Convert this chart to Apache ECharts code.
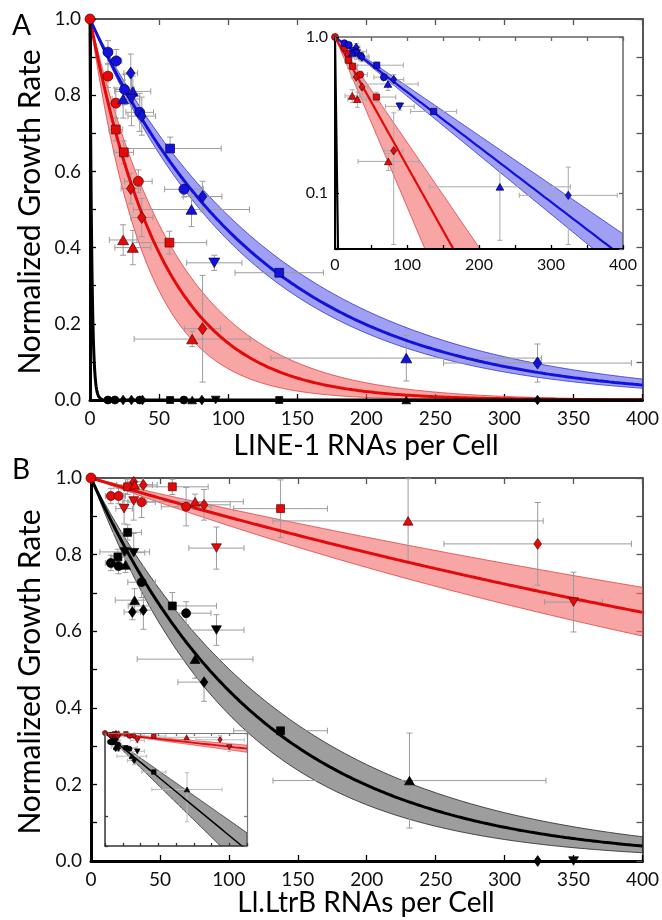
<!DOCTYPE html>
<html><head><meta charset="utf-8">
<script src="https://cdn.jsdelivr.net/npm/echarts@6/dist/echarts.min.js"></script>
<style>html,body{margin:0;padding:0;background:#fff}#c{width:662px;height:920px}</style>
</head><body><div id="c"></div>
<script>
// ---------------- DATA ----------------
// point tuples: [x (RNAs per cell), y (normalized growth rate), xErr, yErr, shape]
// shape: o circle, s square, d diamond, t triangle, v inverted triangle
const originPoint = [0, 1.0];

const line1Blue = [
  [13, 0.913, 3, 0.03, 'o'], [19, 0.89, 4, 0.03, 'o'], [29.5, 0.858, 5, 0.05, 'd'],
  [25, 0.815, 7, 0.04, 'o'], [31, 0.81, 13, 0.04, 't'], [24, 0.79, 8, 0.05, 't'],
  [30, 0.79, 6, 0.07, 'v'], [36, 0.755, 10, 0.05, 'o'], [37.5, 0.745, 10, 0.05, 'd'],
  [58, 0.66, 37, 0.03, 's'], [68, 0.553, 14, 0.02, 'o'], [81.5, 0.534, 14, 0.04, 'd'],
  [73.5, 0.50, 42, 0.045, 't'], [90, 0.36, 20, 0.02, 'v'], [137, 0.334, 32, 0.01, 's'],
  [229, 0.11, 98, 0.06, 't'], [324, 0.097, 68, 0.05, 'd']
];
const line1Red = [
  [13, 0.85, 3, 0.03, 'o'], [18.7, 0.779, 5, 0.04, 'o'], [18.7, 0.71, 5, 0.03, 's'],
  [24.5, 0.65, 7, 0.03, 's'], [35, 0.574, 10, 0.03, 'o'], [29.5, 0.555, 7, 0.04, 'd'],
  [37.5, 0.479, 8, 0.05, 'd'], [24, 0.42, 10, 0.04, 't'], [31, 0.40, 13, 0.045, 't'],
  [57.5, 0.413, 27, 0.03, 's'], [81.5, 0.187, 13, 0.14, 'd'], [74, 0.16, 42, 0.02, 't']
];
const line1Black = [
  [13, 0, 0, 0, 'o'], [18, 0, 0, 0, 'o'], [24, 0, 0, 0, 'd'], [30, 0, 0, 0, 'd'],
  [36, 0, 0, 0, 'o'], [38, 0, 0, 0, 'd'], [58, 0, 0, 0, 's'], [68, 0, 0, 0, 'o'],
  [74, 0, 0, 0, 't'], [81, 0, 0, 0, 'd'], [91, 0, 0, 0, 'v'], [137, 0, 0, 0, 's'],
  [229, 0, 0, 0, 't'], [324, 0, 0, 0, 'd']
];
const ltrbRed = [
  [14.4, 0.953, 4, 0.02, 'o'], [20, 0.953, 5, 0.02, 'o'], [24, 0.92, 6, 0.04, 'v'],
  [26.6, 0.977, 10, 0.02, 's'], [31, 0.99, 6, 0.02, 'd'], [31.6, 0.982, 13, 0.02, 't'],
  [31, 0.94, 8, 0.05, 'v'], [36.7, 0.937, 10, 0.04, 'o'], [38, 0.982, 10, 0.02, 'd'],
  [59, 0.977, 26, 0.02, 's'], [69, 0.925, 18, 0.05, 'o'], [75.5, 0.938, 35, 0.02, 't'],
  [82, 0.93, 19, 0.04, 'd'], [91, 0.817, 20, 0.055, 'v'], [137.5, 0.92, 34, 0.075, 's'],
  [230, 0.888, 98, 0.11, 't'], [324, 0.828, 68, 0.108, 'd'], [350, 0.676, 21, 0.078, 'v']
];
const ltrbBlack = [
  [14.4, 0.778, 4, 0.02, 'o'], [19.5, 0.794, 5, 0.02, 's'], [20, 0.77, 5, 0.02, 'o'],
  [26.6, 0.858, 10, 0.02, 's'], [24.5, 0.807, 18, 0.04, 'v'], [31, 0.805, 8, 0.05, 'v'],
  [25, 0.773, 8, 0.02, 't'], [36.7, 0.728, 10, 0.04, 'o'], [31.6, 0.681, 14, 0.03, 't'],
  [30, 0.65, 6, 0.02, 'd'], [38, 0.655, 8, 0.05, 'd'], [59, 0.666, 32, 0.035, 's'],
  [69, 0.647, 18, 0.03, 'o'], [91, 0.603, 20, 0.04, 'v'], [75.5, 0.527, 42, 0.05, 't'],
  [82, 0.467, 19, 0.05, 'd'], [137.5, 0.34, 34, 0.01, 's'], [231, 0.21, 99, 0.124, 't'],
  [324, 0, 0, 0, 'd'], [350, 0, 0, 0, 'v']
];

// exponential fits y = exp(-k x): [best-fit k, k of upper band edge, k of lower band edge]
const fitLine1Red = [0.019, 0.0155, 0.025];
const fitLine1Blue = [0.0081, 0.00725, 0.0087];
const fitLine1Black = [0.75, 0.65, 0.85];
const fitLtrbRed = [0.00108, 0.00084, 0.00133];
const fitLtrbBlack = [0.0081, 0.0069, 0.0096];

// tick labels
const xTickLabelsMain = ['0', '50', '100', '150', '200', '250', '300', '350', '400'];
const yTickLabelsMain = ['0.0', '0.2', '0.4', '0.6', '0.8', '1.0'];
const xTickLabelsInset = ['0', '100', '200', '300', '400'];
const yTickLabelsInset = ['0.1', '1.0'];

// text
const panelLabels = ['A', 'B'];
const yTitle = 'Normalized Growth Rate';
const xTitleA = 'LINE-1 RNAs per Cell';
const xTitleB = 'Ll.LtrB RNAs per Cell';

// ---------------- STYLE / HELPERS ----------------
const FONT = 'Lato, "Open Sans", sans-serif';
const RED = '#e50a0a', RED_EDGE = '#5a0000', RED_BAND = 'rgba(242,110,110,0.62)';
const BLUE = '#1212dc', BLUE_EDGE = '#00004a', BLUE_BAND = 'rgba(95,95,235,0.6)';
const BLACK = '#000', GRAY_BAND = 'rgba(140,140,140,0.85)';
const LOGMIN = 0.044;

const SYM = { o: ['circle', 0, 1], s: ['rect', 0, 0.88], d: ['diamond', 0, 1], t: ['triangle', 0, 1], v: ['triangle', 180, 1] };

function sampleXs(max, step) { const a = []; for (let x = 0; x <= max + 1e-9; x += step) a.push(+x.toFixed(4)); return a; }
const xsMain = sampleXs(400, 2);
const xsBlack = sampleXs(10, 0.05).concat(sampleXs(400, 2).filter(x => x > 10));
const xsBlackLog = sampleXs(12, 0.05);

function curveData(k, xs) { return xs.map(x => [x, Math.exp(-k * x)]); }

function markerData(points, size, skipZero) {
  return points.filter(p => !(skipZero && p[1] <= 0)).map(p => {
    const s = SYM[p[4]];
    let sz = size * s[2];
    let symbolSize = sz;
    if (p[4] === 'd') symbolSize = [sz * 0.85, sz * 1.2];
    if (p[4] === 't' || p[4] === 'v') symbolSize = [sz * 1.1, sz * 0.95];
    return { value: [p[0], p[1]], symbol: s[0], symbolRotate: s[1], symbolSize: symbolSize };
  });
}

function scatterSeries(ax, points, color, edge, size, skipZero, z) {
  return {
    type: 'scatter', xAxisIndex: ax, yAxisIndex: ax, z: z, clip: false, silent: true,
    data: markerData(points, size, skipZero),
    itemStyle: { color: color, borderColor: edge, borderWidth: 0.7, opacity: 1 }
  };
}

function lineSeries(ax, k, xs, color, width, z) {
  return {
    type: 'line', xAxisIndex: ax, yAxisIndex: ax, z: z, showSymbol: false, silent: true,
    clip: true, data: curveData(k, xs), lineStyle: { color: color, width: width }, animation: false
  };
}

function bandSeries(ax, ks, xs, fill, edge, isLog, z) {
  return {
    type: 'custom', xAxisIndex: ax, yAxisIndex: ax, z: z, clip: true, silent: true,
    data: [[xs[Math.floor(xs.length / 2)], 0.5]],
    renderItem: function (params, api) {
      const pts = [];
      xs.forEach(x => pts.push(api.coord([x, Math.exp(-ks[1] * x)])));
      for (let i = xs.length - 1; i >= 0; i--) pts.push(api.coord([xs[i], Math.exp(-ks[2] * xs[i])]));
      return { type: 'polygon', shape: { points: pts }, style: { fill: fill, stroke: edge, lineWidth: 0.8 } };
    }
  };
}

function errorSeries(ax, points, cap, isLog, z, color) {
  return {
    type: 'custom', xAxisIndex: ax, yAxisIndex: ax, z: z, clip: true, silent: true,
    data: points.filter(p => p[1] > 0 && (p[2] > 0 || p[3] > 0)).map(p => [p[0], p[1], p[2], p[3]]),
    renderItem: function (params, api) {
      const x = api.value(0), y = api.value(1), ex = api.value(2), ey = api.value(3);
      const yLow = isLog ? Math.max(y - ey, 1e-4) : y - ey;
      const l = api.coord([x - ex, y]), r = api.coord([x + ex, y]);
      const t = api.coord([x, y + ey]), b = api.coord([x, yLow]);
      const st = { stroke: color, lineWidth: 1, fill: null };
      const ch = [];
      if (ex > 0) {
        ch.push({ type: 'line', shape: { x1: l[0], y1: l[1], x2: r[0], y2: r[1] }, style: st });
        ch.push({ type: 'line', shape: { x1: l[0], y1: l[1] - cap, x2: l[0], y2: l[1] + cap }, style: st });
        ch.push({ type: 'line', shape: { x1: r[0], y1: r[1] - cap, x2: r[0], y2: r[1] + cap }, style: st });
      }
      if (ey > 0) {
        ch.push({ type: 'line', shape: { x1: t[0], y1: t[1], x2: b[0], y2: b[1] }, style: st });
        ch.push({ type: 'line', shape: { x1: t[0] - cap, y1: t[1], x2: t[0] + cap, y2: t[1] }, style: st });
        ch.push({ type: 'line', shape: { x1: b[0] - cap, y1: b[1], x2: b[0] + cap, y2: b[1] }, style: st });
      }
      return { type: 'group', children: ch };
    }
  };
}

function fmtLabel(list, digits) {
  return function (v) {
    const s = digits ? (+v).toFixed(digits) : String(Math.round(v));
    return list.indexOf(s) >= 0 ? s : '';
  };
}

// axis builders
function xAxisPair(grid, opts) {
  const base = { gridIndex: grid, type: 'value', min: 0, max: 400, interval: 50, splitLine: { show: false }, z: opts.z || 0 };
  return [
    Object.assign({}, base, {
      position: 'bottom',
      axisLine: { onZero: false, lineStyle: { color: opts.lineColor, width: opts.lineWidth } },
      axisTick: { inside: true, length: opts.tick, lineStyle: { color: opts.lineColor, width: 1.3 } },
      axisLabel: opts.labels ? { show: true, fontSize: opts.fontSize, fontFamily: FONT, color: '#111', margin: opts.margin, formatter: fmtLabel(opts.labels, 0) } : { show: false }
    }),
    Object.assign({}, base, {
      position: 'top',
      axisLine: { onZero: false, lineStyle: { color: opts.mirrorColor, width: opts.mirrorWidth } },
      axisTick: { inside: true, length: opts.tick, lineStyle: { color: opts.mirrorColor, width: 1.3 } },
      axisLabel: { show: false }
    })
  ];
}
function yAxisPair(grid, opts) {
  const base = opts.log
    ? { gridIndex: grid, type: 'log', logBase: 10, min: LOGMIN, max: 1, splitLine: { show: false }, z: opts.z || 0 }
    : { gridIndex: grid, type: 'value', min: 0, max: 1, interval: 0.1, splitLine: { show: false }, z: opts.z || 0 };
  return [
    Object.assign({}, base, {
      position: 'left',
      axisLine: { onZero: false, lineStyle: { color: opts.lineColor, width: opts.lineWidth } },
      axisTick: { inside: true, length: opts.tick, lineStyle: { color: opts.lineColor, width: 1.3 } },
      axisLabel: opts.labels ? { show: true, fontSize: opts.fontSize, fontFamily: FONT, color: '#111', margin: opts.margin, formatter: fmtLabel(opts.labels, 1) } : { show: false }
    }),
    Object.assign({}, base, {
      position: 'right',
      axisLine: { onZero: false, lineStyle: { color: opts.mirrorColor, width: opts.mirrorWidth } },
      axisTick: { inside: true, length: opts.tick, lineStyle: { color: opts.mirrorColor, width: 1.3 } },
      axisLabel: { show: false }
    })
  ];
}

const mainAxisOpts = { lineColor: '#000', lineWidth: 3, mirrorColor: '#555', mirrorWidth: 2, tick: 6, fontSize: 19, margin: 9 };
const insetAOpts = { lineColor: '#000', lineWidth: 2, mirrorColor: '#666', mirrorWidth: 1.5, tick: 4, fontSize: 16, margin: 7, z: 20 };
const insetBOpts = { lineColor: '#333', lineWidth: 1.5, mirrorColor: '#777', mirrorWidth: 1.2, tick: 3, z: 20 };

const xAxes = [].concat(
  xAxisPair(0, Object.assign({ labels: xTickLabelsMain }, mainAxisOpts)),
  xAxisPair(1, Object.assign({ labels: xTickLabelsInset }, insetAOpts, { margin: 8 })),
  xAxisPair(2, Object.assign({ labels: xTickLabelsMain }, mainAxisOpts)),
  xAxisPair(3, Object.assign({}, insetBOpts))
);
const yAxes = [].concat(
  yAxisPair(0, Object.assign({ labels: yTickLabelsMain }, mainAxisOpts)),
  yAxisPair(1, Object.assign({ labels: yTickLabelsInset, log: true }, insetAOpts)),
  yAxisPair(2, Object.assign({ labels: yTickLabelsMain }, mainAxisOpts)),
  yAxisPair(3, Object.assign({ log: true }, insetBOpts))
);
// axis index of the primary (bottom/left) axis of each grid
const AX = [0, 2, 4, 6];

const ERR = '#9c9c9c';
const series = [
  // ---- Panel A main ----
  bandSeries(AX[0], fitLine1Red, xsMain, RED_BAND, '#e04040', false, 2),
  bandSeries(AX[0], fitLine1Blue, xsMain, BLUE_BAND, '#3030d0', false, 2),
  errorSeries(AX[0], line1Red, 3, false, 3, ERR),
  errorSeries(AX[0], line1Blue, 3, false, 3, ERR),
  lineSeries(AX[0], fitLine1Red[0], xsMain, RED, 3, 4),
  lineSeries(AX[0], fitLine1Blue[0], xsMain, BLUE, 3, 4),
  lineSeries(AX[0], fitLine1Black[0], xsBlack, BLACK, 3, 4),
  scatterSeries(AX[0], line1Black, BLACK, BLACK, 8, false, 5),
  scatterSeries(AX[0], line1Red, RED, RED_EDGE, 10, false, 5),
  scatterSeries(AX[0], line1Blue, BLUE, BLUE_EDGE, 10, false, 5),
  scatterSeries(AX[0], [[originPoint[0], originPoint[1], 0, 0, 'o']], RED, RED_EDGE, 10, false, 6),
  // ---- Panel A inset (log) ----
  bandSeries(AX[1], fitLine1Red, xsMain, RED_BAND, '#e04040', true, 12),
  bandSeries(AX[1], fitLine1Blue, xsMain, BLUE_BAND, '#3030d0', true, 12),
  errorSeries(AX[1], line1Red, 2.5, true, 13, '#aaa'),
  errorSeries(AX[1], line1Blue, 2.5, true, 13, '#aaa'),
  lineSeries(AX[1], fitLine1Red[0], xsMain, RED, 2.2, 14),
  lineSeries(AX[1], fitLine1Blue[0], xsMain, BLUE, 2.2, 14),
  lineSeries(AX[1], fitLine1Black[0], xsBlackLog, BLACK, 2.2, 14),
  scatterSeries(AX[1], line1Red, RED, RED_EDGE, 7, true, 15),
  scatterSeries(AX[1], line1Blue, BLUE, BLUE_EDGE, 7, true, 15),
  scatterSeries(AX[1], [[originPoint[0], originPoint[1], 0, 0, 'o']], RED, RED_EDGE, 7, true, 16),
  // ---- Panel B main ----
  bandSeries(AX[2], fitLtrbRed, xsMain, RED_BAND, '#e04040', false, 2),
  bandSeries(AX[2], fitLtrbBlack, xsMain, GRAY_BAND, '#222', false, 2),
  errorSeries(AX[2], ltrbRed, 3, false, 3, ERR),
  errorSeries(AX[2], ltrbBlack, 3, false, 3, ERR),
  lineSeries(AX[2], fitLtrbRed[0], xsMain, RED, 3, 4),
  lineSeries(AX[2], fitLtrbBlack[0], xsMain, BLACK, 3, 4),
  scatterSeries(AX[2], ltrbBlack, BLACK, BLACK, 9, false, 5),
  scatterSeries(AX[2], ltrbRed, RED, RED_EDGE, 9, false, 5),
  scatterSeries(AX[2], [[originPoint[0], originPoint[1], 0, 0, 'o']], RED, RED_EDGE, 10, false, 6),
  // ---- Panel B inset (log) ----
  bandSeries(AX[3], fitLtrbRed, xsMain, RED_BAND, '#e04040', true, 12),
  bandSeries(AX[3], fitLtrbBlack, xsMain, GRAY_BAND, '#222', true, 12),
  errorSeries(AX[3], ltrbRed, 2, true, 13, '#bbb'),
  errorSeries(AX[3], ltrbBlack, 2, true, 13, '#bbb'),
  lineSeries(AX[3], fitLtrbRed[0], xsMain, RED, 1.8, 14),
  lineSeries(AX[3], fitLtrbBlack[0], xsMain, BLACK, 1.5, 14),
  scatterSeries(AX[3], ltrbBlack, BLACK, BLACK, 5, true, 15),
  scatterSeries(AX[3], ltrbRed, RED, RED_EDGE, 5, true, 15),
  scatterSeries(AX[3], [[originPoint[0], originPoint[1], 0, 0, 'o']], RED, RED_EDGE, 5, true, 16)
];

const xTitleFont = '28px ' + FONT;
const yTitleFont = '30px ' + FONT;
const option = {
  animation: false,
  backgroundColor: '#fff',
  grid: [
    { left: 90, top: 19, width: 553, height: 381 },
    { left: 335, top: 37, width: 288, height: 212, show: true, backgroundColor: '#fff', borderWidth: 0, z: 10 },
    { left: 91, top: 478, width: 556, height: 383 },
    { left: 105, top: 733, width: 142, height: 113, show: true, backgroundColor: '#fff', borderWidth: 0, z: 10 }
  ],
  xAxis: xAxes,
  yAxis: yAxes,
  series: series,
  graphic: [
    { type: 'text', left: 12, top: 12, style: { text: panelLabels[0], font: '28px ' + FONT, fill: '#000' } },
    { type: 'text', left: 12, top: 456, style: { text: panelLabels[1], font: '28px ' + FONT, fill: '#000' } },
    { type: 'text', x: 30, y: 212, rotation: Math.PI / 2, style: { text: yTitle, font: yTitleFont, fill: '#000', textAlign: 'center', textVerticalAlign: 'middle' } },
    { type: 'text', x: 30, y: 672, rotation: Math.PI / 2, style: { text: yTitle, font: yTitleFont, fill: '#000', textAlign: 'center', textVerticalAlign: 'middle' } },
    { type: 'text', x: 366, y: 446, style: { text: xTitleA, font: xTitleFont, fill: '#000', textAlign: 'center', textVerticalAlign: 'middle' } },
    { type: 'text', x: 366, y: 903, style: { text: xTitleB, font: xTitleFont, fill: '#000', textAlign: 'center', textVerticalAlign: 'middle' } }
  ]
};

const chart = echarts.init(document.getElementById('c'), null, { renderer: 'canvas' });
chart.setOption(option);
</script>
</body></html>
